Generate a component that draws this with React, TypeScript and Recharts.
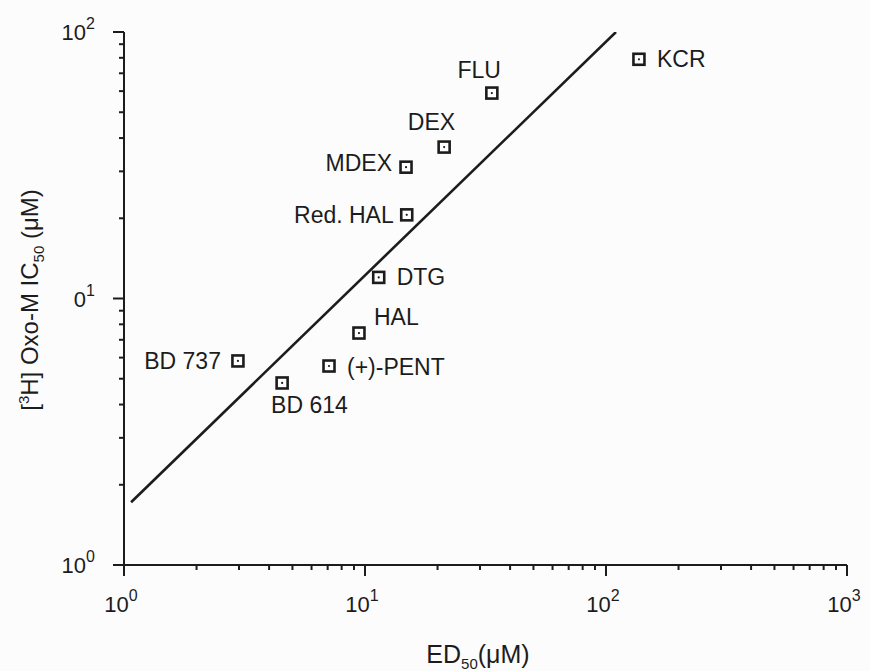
import { ScatterChart, Scatter, XAxis, YAxis } from 'recharts';

// values
const drugs = ['KCR', 'FLU', 'DEX', 'MDEX', 'Red. HAL', 'DTG', 'HAL', 'BD 737', '(+)-PENT', 'BD 614'];
const ed50 = [137, 33.6, 21.3, 14.8, 14.9, 11.4, 9.44, 2.97, 7.09, 4.53];
const ic50 = [79, 59, 37, 31.1, 20.6, 12.0, 7.42, 5.83, 5.58, 4.82];

// regression line end points
const fitEd50 = [1.07, 110];
const fitIc50 = [1.72, 100];

const xTicks = [1, 2, 3, 4, 5, 6, 7, 8, 9, 10, 20, 30, 40, 50, 60, 70, 80, 90, 100, 200, 300, 400, 500, 600, 700, 800, 900, 1000];
const yTicks = [1, 2, 3, 4, 5, 6, 7, 8, 9, 10, 20, 30, 40, 50, 60, 70, 80, 90, 100];
const xTickLabels: Record<number, [string, string]> = { 1: ['10', '0'], 10: ['10', '1'], 100: ['10', '2'], 1000: ['10', '3'] };
const yTickLabels: Record<number, [string, string]> = { 1: ['10', '0'], 10: ['0', '1'], 100: ['10', '2'] };

// where each drug name sits relative to its marker: [dx, dy, anchor]
const labelOffsets: Record<string, [number, number, 'start' | 'end']> = {
  'KCR': [18, 8, 'start'],
  'FLU': [9, -15, 'end'],
  'DEX': [11, -17, 'end'],
  'MDEX': [-14, 4, 'end'],
  'Red. HAL': [-13, 8, 'end'],
  'DTG': [18, 8, 'start'],
  'HAL': [15, -8, 'start'],
  'BD 737': [-17, 8, 'end'],
  '(+)-PENT': [18, 9, 'start'],
  'BD 614': [-11, 30, 'start'],
};

const points = drugs.map((name, i) => ({ name, x: ed50[i], y: ic50[i] }));
const fitLine = fitEd50.map((x, i) => ({ x, y: fitIc50[i] }));

const INK = '#1c1c1c';
const FONT = '"Liberation Sans", Arial, Helvetica, sans-serif';

const XTick = (props: any) => {
  const { x, y, payload } = props;
  const lab = xTickLabels[payload.value];
  return (
    <g>
      <line x1={x} y1={y} x2={x} y2={y + (lab ? 11 : 5)} stroke={INK} strokeWidth={2} />
      {lab && (
        <text x={x - 3} y={y + 47} textAnchor="middle" fontSize={22} fill={INK} fontFamily={FONT}>
          {lab[0]}
          <tspan dy={-11} fontSize={16}>{lab[1]}</tspan>
        </text>
      )}
    </g>
  );
};

const YTick = (props: any) => {
  const { x, y, payload } = props;
  const lab = yTickLabels[payload.value];
  return (
    <g>
      <line x1={x} y1={y} x2={x - (lab ? 11 : 5)} y2={y} stroke={INK} strokeWidth={2} />
      {lab && (
        <text x={x - 29} y={y + 8} textAnchor="end" fontSize={22} fill={INK} fontFamily={FONT}>
          {lab[0]}
          <tspan dy={-11} fontSize={16}>{lab[1]}</tspan>
        </text>
      )}
    </g>
  );
};

const DrugPoint = (props: any) => {
  const { cx, cy, payload } = props;
  const off = labelOffsets[payload.name] || [14, 8, 'start'];
  return (
    <g>
      <rect x={cx - 5.5} y={cy - 5.5} width={11} height={11} fill="#fff" stroke={INK} strokeWidth={2.6} />
      <circle cx={cx} cy={cy} r={1.1} fill={INK} />
      <text x={cx + off[0]} y={cy + off[1]} textAnchor={off[2]} fontSize={23} fill={INK} fontFamily={FONT}>
        {payload.name}
      </text>
    </g>
  );
};

export default function App() {
  return (
    <div style={{ position: 'absolute', left: 0, top: 0, width: 870, height: 671, background: '#fcfcfc' }}>
      <ScatterChart width={870} height={671} margin={{ top: 32, right: 23, bottom: 46, left: 64 }}>
        <XAxis
          type="number"
          dataKey="x"
          scale="log"
          domain={[1, 1000]}
          ticks={xTicks}
          interval={0}
          allowDataOverflow
          tickSize={0}
          tickMargin={0}
          tickLine={false}
          tick={<XTick />}
          axisLine={{ stroke: INK, strokeWidth: 2 }}
          height={60}
        />
        <YAxis
          type="number"
          dataKey="y"
          scale="log"
          domain={[1, 100]}
          ticks={yTicks}
          interval={0}
          allowDataOverflow
          tickSize={0}
          tickMargin={0}
          tickLine={false}
          tick={<YTick />}
          axisLine={{ stroke: INK, strokeWidth: 2 }}
          width={60}
        />
        <Scatter
          data={fitLine}
          line={{ stroke: INK, strokeWidth: 2.6 }}
          shape={() => <g />}
          isAnimationActive={false}
        />
        <Scatter data={points} shape={<DrugPoint />} isAnimationActive={false} />
      </ScatterChart>
      <svg width={870} height={671} style={{ position: 'absolute', left: 0, top: 0, pointerEvents: 'none' }}>
        <text x={478} y={663} textAnchor="middle" fontSize={25} fill={INK} fontFamily={FONT}>
          ED
          <tspan dy={6} fontSize={15}>50</tspan>
          <tspan dy={-6}>(μM)</tspan>
        </text>
        <text
          transform="translate(38,300) rotate(-90)"
          textAnchor="middle"
          fontSize={24}
          fill={INK}
          fontFamily={FONT}
        >
          [<tspan dy={-9} fontSize={15}>3</tspan>
          <tspan dy={9}>H] Oxo-M IC</tspan>
          <tspan dy={6} fontSize={15}>50</tspan>
          <tspan dy={-6}> (μM)</tspan>
        </text>
      </svg>
    </div>
  );
}
